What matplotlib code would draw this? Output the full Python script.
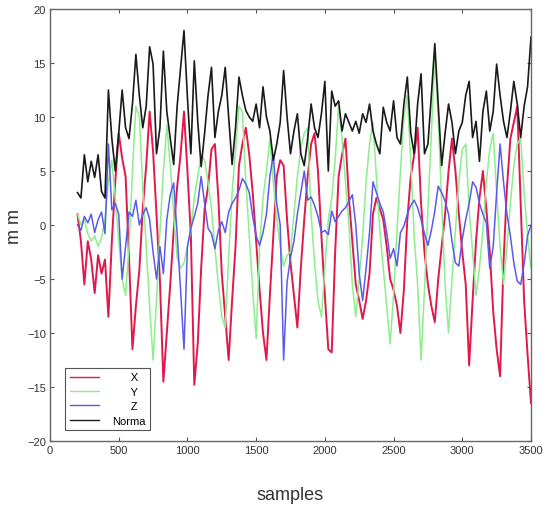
import numpy as np
import matplotlib
matplotlib.use("Agg")
import matplotlib.pyplot as plt

plt.rcParams['font.family'] = ['Liberation Sans', 'DejaVu Sans']

# sample index grid (every 25 samples, 200..3500)
samples = np.arange(200, 3501, 25)

x_vals = [
    1.0, -1.5, -5.5, -1.5, -3.2, -6.3, -2.8, -4.5, -3.2, -8.5, -1.5, 4.0, 8.5, 6.2, 4.5, -3.0, -11.5, -7.5, -4.2, 1.5,
    5.5, 10.5, 6.8, 1.0, -5.2, -14.5, -10.0, -5.5, -0.5, 3.5, 6.5, 10.5, 5.0, -1.0, -14.8, -11.0, -4.0, 1.5, 3.5, 7.0,
    7.5, 2.5, -4.5, -8.5, -12.5, -7.0, -2.0, 5.5, 7.5, 9.0, 6.5, 3.0, -1.5, -6.0, -10.0, -12.5, -6.5, -1.0, 4.5, 6.0,
    5.5, 0.5, -3.5, -6.5, -9.5, -4.0, 0.5, 4.5, 7.5, 8.5, 5.0, -1.0, -6.5, -11.5, -11.8, -2.5, 4.5, 6.5, 8.0, 2.5,
    -1.5, -5.5, -7.0, -8.7, -7.0, -4.5, 1.0, 2.5, 1.5, 0.5, -2.0, -5.0, -6.0, -7.5, -10.0, -6.0, 0.5, 4.5, 6.5, 9.0,
    2.0, -2.5, -5.5, -7.5, -9.0, -5.0, -2.0, 1.0, 5.0, 8.0, 5.0, 1.0, -2.5, -5.5, -13.0, -7.0, -1.5, 2.5, 5.0, 1.5,
    -2.5, -8.0, -11.5, -14.0, -3.5, 3.5, 8.0, 9.5, 11.0, 2.0, -7.0, -12.0, -16.5,
]

y_vals = [
    1.0, 0.0, 0.5, -0.8, -1.5, -1.0, -2.0, -1.2, 0.5, 4.0, 6.0, 2.5, -1.5, -5.0, -6.5, -2.0, 5.0, 11.0, 10.0, 3.5,
    -2.0, -7.5, -12.5, -7.0, -0.5, 5.0, 9.2, 5.5, 1.0, -3.0, -4.0, -3.5, -2.0, -0.5, 2.5, 4.5, 6.5, 6.0, 4.0, 1.5,
    -2.2, -5.5, -8.5, -9.5, -3.0, 3.0, 7.0, 11.0, 10.5, 4.0, -1.0, -6.0, -10.5, -2.0, 2.5, 5.0, 8.0, 4.0, 0.7, -2.0,
    -3.8, -2.8, -2.5, 1.0, 4.5, 7.0, 8.5, 9.0, 1.0, -3.5, -7.0, -8.5, -4.0, 0.5, 2.5, 6.0, 11.0, 8.0, 4.0, 0.0,
    -5.5, -8.5, -5.0, -1.0, 4.0, 7.5, 9.5, 4.5, -0.5, -4.0, -7.5, -11.0, -6.5, -0.5, 5.0, 10.0, 12.0, 6.0, -1.0, -5.5,
    -12.5, -6.0, 1.5, 8.5, 15.5, 10.0, 2.0, -5.5, -10.0, -5.0, -0.5, 4.0, 7.0, 7.5, 1.5, -2.5, -6.5, -4.0, -0.5, 4.0,
    7.0, 8.5, 3.0, -2.0, -5.5, -2.0, 2.0, 5.5, 7.5, 8.0, 3.0, -1.0, -4.0,
]

z_vals = [
    0.0, -0.5, 0.8, 0.2, 1.0, -0.7, 0.5, 1.2, -0.8, 7.5, 1.4, 2.0, 1.0, -5.0, -2.0, 1.2, 0.8, 2.3, 0.0, 1.0,
    1.6, 0.5, -2.5, -5.0, -2.0, -4.5, 0.5, 2.8, 3.9, -0.8, -6.0, -11.5, -2.0, -0.3, 0.8, 2.0, 4.5, 2.0, -0.3, -0.8,
    -2.2, -0.5, 0.3, -0.7, 1.2, 2.0, 2.5, 3.2, 4.3, 3.8, 3.0, 0.8, -1.0, -1.9, -0.7, 1.0, 4.5, 6.5, 2.0, 0.0,
    -12.5, -5.3, -3.0, -1.5, 1.0, 3.0, 5.0, 2.3, 2.6, 1.8, 0.8, -0.7, -0.5, -0.9, 1.3, 0.3, 0.8, 1.3, 1.6, 2.2,
    2.8, 0.0, -4.5, -7.0, -4.0, -0.7, 4.0, 3.0, 2.0, 1.2, -0.7, -3.1, -2.2, -3.8, -0.7, -0.1, 1.0, 1.8, 2.3, 1.6,
    0.5, -0.8, -1.9, -0.5, 1.3, 3.6, 3.0, 2.2, 1.0, -1.5, -3.5, -3.8, -1.3, 0.5, 2.0, 4.0, 3.5, 2.0, 1.0, 0.2,
    -4.0, -2.0, 3.0, 7.5, 4.0, 1.0, -1.0, -3.5, -5.2, -5.5, -3.6, -1.0, 0.0,
]

norma_vals = [
    3.0, 2.5, 6.5, 4.0, 5.9, 4.4, 6.5, 3.1, 2.5, 12.5, 8.0, 5.0, 8.5, 12.5, 9.0, 8.0, 11.2, 15.8, 12.0, 9.0,
    11.0, 16.5, 14.9, 6.6, 9.0, 16.1, 10.5, 8.0, 5.6, 11.0, 14.5, 18.0, 11.8, 6.6, 15.2, 9.6, 5.4, 8.5, 12.0, 14.6,
    8.1, 10.5, 12.0, 14.6, 10.0, 5.6, 9.0, 13.7, 12.0, 10.6, 10.0, 9.6, 11.2, 9.0, 12.8, 10.0, 8.7, 6.0, 7.5, 9.5,
    14.3, 10.0, 6.6, 8.7, 10.3, 6.6, 5.5, 8.0, 11.2, 9.0, 8.1, 10.3, 13.3, 5.0, 12.4, 11.0, 11.5, 8.7, 10.3, 9.5,
    8.7, 9.6, 8.5, 10.3, 9.5, 11.2, 8.7, 7.5, 6.6, 10.9, 9.5, 8.7, 11.5, 8.1, 7.5, 11.2, 13.7, 8.5, 6.6, 11.2,
    14.0, 6.6, 7.5, 12.0, 16.8, 11.2, 5.5, 8.5, 11.2, 9.5, 6.6, 8.7, 9.5, 12.0, 13.3, 8.1, 9.6, 5.9, 10.5, 12.4,
    8.7, 10.5, 14.9, 12.0, 9.6, 8.1, 10.5, 13.3, 11.2, 8.1, 11.0, 12.8, 17.4,
]

series_labels = ['      X', '      Y', '      Z', 'Norma']
x_ticks = [0, 500, 1000, 1500, 2000, 2500, 3000, 3500]
y_ticks = [-20, -15, -10, -5, 0, 5, 10, 15, 20]

fig = plt.figure(figsize=(5.43, 5.06), dpi=100)
ax = fig.add_axes([50/543, 64/506, 481/543, 432/506])

ax.plot(samples, x_vals, color='#e0184c', lw=1.4, label=series_labels[0])
ax.plot(samples, y_vals, color='#8cee8c', lw=1.1, label=series_labels[1])
ax.plot(samples, z_vals, color='#5b5bea', lw=1.1, label=series_labels[2])
ax.plot(samples, norma_vals, color='#1a1a1a', lw=1.2, label=series_labels[3])

ax.set_xlim(0, 3500)
ax.set_ylim(-20, 20)
ax.set_xticks(x_ticks)
ax.set_yticks(y_ticks)
ax.tick_params(direction='in', top=True, right=True, labelsize=8, colors='#555555',
               labelcolor='#333333', length=3, pad=3)
for s in ax.spines.values():
    s.set_color('#666666')
    s.set_linewidth(1.0)

ax.set_xlabel('samples', fontsize=13, color='#333333', labelpad=22)
ax.set_ylabel('m m', fontsize=13, color='#333333', labelpad=3)

leg = ax.legend(loc='lower left', bbox_to_anchor=(0.02, 0.012), fontsize=8,
                handlelength=2.6, borderpad=0.4, labelspacing=0.4, handletextpad=1.2,
                fancybox=False, framealpha=1, edgecolor='#555555')
leg.get_frame().set_linewidth(0.8)
for line in leg.get_lines():
    line.set_linewidth(1.0)

fig.savefig('out.png', dpi=100)
